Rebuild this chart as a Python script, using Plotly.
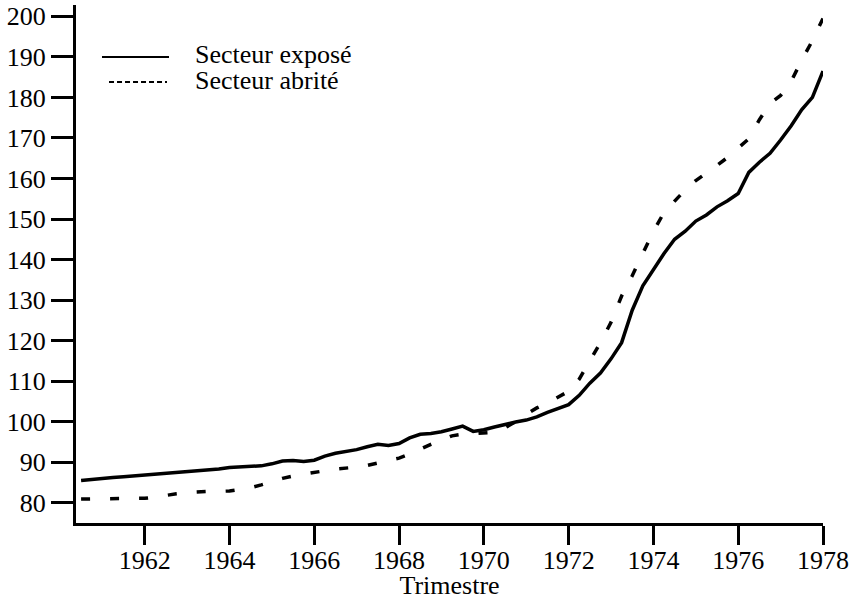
import plotly.graph_objects as go

trimestres = [1960.5 + 0.25 * i for i in range(71)]

secteur_expose = [
    85.5, 85.8, 86.0, 86.2, 86.4, 86.6, 86.7, 86.9, 87.1, 87.3,
    87.5, 87.7, 87.9, 88.3, 88.7, 88.8, 88.9, 89.1, 89.6, 90.3,
    90.4, 90.2, 90.5, 91.5, 92.2, 92.6, 93.1, 93.8, 94.4, 94.1,
    94.6, 96.0, 96.9, 97.1, 97.5, 98.2, 98.9, 97.6, 98.0, 98.7,
    99.4, 99.9, 100.4, 101.2, 102.3, 103.2, 104.2, 106.5, 109.5, 112.0,
    115.5, 119.5, 127.5, 133.5, 137.5, 141.5, 145.0, 147.0, 149.5, 151.0,
    153.0, 154.5, 156.3, 161.5, 164.0, 166.2, 169.5, 173.0, 177.0, 180.0,
    186.5,
]

secteur_abrite = [
    80.9, 80.9, 80.9, 80.9, 80.9, 80.9, 81.1, 81.4, 81.9, 82.2,
    82.5, 82.7, 82.8, 82.8, 82.9, 83.3, 83.7, 84.4, 85.3, 86.0,
    86.6, 87.1, 87.5, 87.9, 88.3, 88.5, 88.8, 89.2, 89.8, 90.4,
    91.0, 92.0, 93.3, 94.4, 95.5, 96.5, 96.9, 97.0, 97.1, 97.4,
    98.5, 100.0, 101.8, 103.4, 104.6, 106.0, 107.5, 110.5, 115.0, 119.5,
    124.5, 131.0, 136.0, 141.5, 147.0, 151.6, 154.5, 157.2, 159.5, 161.3,
    163.2, 165.2, 167.5, 169.8, 174.5, 178.5, 180.5, 184.0, 189.2, 194.0,
    199.5,
]

series_names = ["Secteur exposé", "Secteur abrité"]
x_ticks = list(range(1962, 1979, 2))
y_ticks = list(range(80, 201, 10))
x_title = "Trimestre"

FONT = "Liberation Serif"

fig = go.Figure()
fig.add_trace(go.Scatter(
    x=trimestres, y=secteur_expose, mode="lines", name=series_names[0],
    line=dict(color="black", width=3.5), showlegend=False,
))
fig.add_trace(go.Scatter(
    x=trimestres, y=secteur_abrite, mode="lines", name=series_names[1],
    line=dict(color="black", width=3.5, dash="9px,20px"), showlegend=False,
))

# Key (sample lines + labels) in the upper-left corner
fig.add_shape(type="line", xref="paper", yref="paper",
              x0=0.0348, x1=0.1245, y0=0.8996, y1=0.8996,
              line=dict(color="black", width=2))
fig.add_shape(type="line", xref="paper", yref="paper",
              x0=0.0442, x1=0.1218, y0=0.8514, y1=0.8514,
              line=dict(color="black", width=2, dash="5px,3px"))
fig.add_annotation(text=series_names[0], xref="paper", yref="paper",
                   x=0.1566, y=0.905, xanchor="left", yanchor="middle",
                   showarrow=False, font=dict(family=FONT, size=26, color="black"))
fig.add_annotation(text=series_names[1], xref="paper", yref="paper",
                   x=0.1566, y=0.855, xanchor="left", yanchor="middle",
                   showarrow=False, font=dict(family=FONT, size=26, color="black"))

fig.update_layout(
    template="none",
    width=854, height=600,
    margin=dict(l=76, r=31, t=5, b=77),
    paper_bgcolor="white", plot_bgcolor="white",
    font=dict(family=FONT, size=26, color="black"),
    showlegend=False,
    xaxis=dict(
        range=[1960.38, 1978.0], tickvals=x_ticks, ticktext=[str(v) for v in x_ticks],
        automargin=False,
        showgrid=False, zeroline=False, showline=True, linecolor="black", linewidth=3,
        ticks="outside", ticklen=19, tickwidth=3, tickcolor="black",
        ticklabelstandoff=-7,
        tickfont=dict(family=FONT, size=26, color="black"),
        title=dict(text=x_title, font=dict(family=FONT, size=26, color="black"), standoff=0),
    ),
    yaxis=dict(
        range=[75, 202.8], tickvals=y_ticks, automargin=False,
        showgrid=False, zeroline=False, showline=True, linecolor="black", linewidth=3,
        ticks="outside", ticklen=22, tickwidth=3, tickcolor="black",
        tickfont=dict(family=FONT, size=26, color="black"),
    ),
)

fig.write_html(
    "out.html",
    config={"displayModeBar": False},
    post_script="document.body.style.margin='0';document.body.style.overflow='hidden';",
)
